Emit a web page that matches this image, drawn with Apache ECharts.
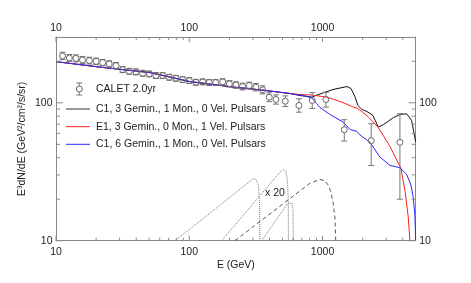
<!DOCTYPE html>
<html><head><meta charset="utf-8">
<script src="https://cdn.jsdelivr.net/npm/echarts@6/dist/echarts.min.js"></script>
<style>html,body{margin:0;padding:0;background:#fff}#c{width:471px;height:283px}</style>
</head><body><div id="c"></div>
<script>
// ---- CALET 2.0yr data ----
const dataE  = [11.2,12.6,14.1,15.8,17.8,20.0,22.4,25.1,28.2,31.6,35.5,39.8,44.7,50.1,56.2,63.1,70.8,79.4,89.1,100,112,126,141,158,178,200,224,251,282,316,355,398,447,525,665,837,1060,1455,2318,3807];
const dataF  = [218.6,211.4,210,204.5,202.2,199.7,195.6,191.4,186,174,169.2,167.5,163.7,162,157.5,157.5,153.1,150.5,147.3,144.9,140.9,141.8,140.2,140.2,141.8,137.2,134.5,131.2,133.4,129.7,124.1,109.8,105.7,102.7,95.6,103.9,105.7,63.8,53.1,51.7];
const dataLo = [205.3,199.5,198,193,191,189,185.5,181.5,176.5,165.5,161,159.5,156,154.3,150,150,145.8,143.3,140.2,138,134,135,133.4,133.4,134.5,130,127.3,124,126,122,116,102,97.8,94,85.5,91,93,52.8,35.1,20.0];
const dataHi = [232.8,224,222.6,216.8,214,211,206.2,201.8,196,183,177.8,176,171.8,170,165.4,165.4,160.8,158,154.7,152.2,148,149,147.3,147.3,149.5,144.8,142,138.8,141.2,137.9,132.8,118.2,114.2,112.2,106.9,118.6,119.3,75.4,70.5,83.3];

// ---- model curves ----
const blackE = [10,21.4,50.7,101,213,339,569,677,833,956,1197,1524,1634,1750,1843,1976,2153,2389,2618,2853,3391,3806,4274,4660,5000];
const blackF = [198.8,181.4,165.6,142.5,130.1,124.2,116.8,112.9,110.1,115.8,124.8,131.2,126.9,111.1,95.6,89.5,86.5,80.9,66.6,69.3,77.9,82.3,83.3,74.5,51.9];
const redE   = [10,21.4,50.7,101,213,339,569,677,833,1060,1197,1447,1691,1843,2191,2618,3203,3873,4151,4394,4525,4600];
const redF   = [198.8,181.4,165.6,142.5,130.1,124.2,116.8,114.8,113.9,110.1,106.5,99.7,93.3,90.9,79.6,66.3,48.3,33.5,23.2,14.9,10.0,8.0];
const blueE  = [10,21.4,50.7,101,213,339,569,713,828,903,956,1136,1422,1606,1812,1909,2268,2695,3203,3806,4274,4604,4790,4933,5000];
const blueF  = [198.8,181.4,165.6,142.5,130.1,124.2,116.8,112.9,108.7,98.9,92.5,82.3,72.7,64.1,62.0,58.5,51.7,40.4,35.2,33.8,30.3,25.3,20.7,15.3,10.0];

// ---- single-pulsar contributions (x 20) ----
const dot1E = [78.1,155.9,285.4,300.6,316.5,330.4,336.2,339.1];
const dot1F = [10.0,16.9,27.0,28.1,27.9,25.3,19.7,9.0];
const dot2E = [175,479,507,531,545,553,555];
const dot2F = [10.0,31.4,33.0,31.9,27.5,19.7,9.0];
const dot3E = [349,550,569,589,600,605];
const dot3F = [10.0,18.7,19.1,18.7,16.7,9.0];
const dashE = [220,804.5,956,1042,1103,1156,1203,1239,1261];
const dashF = [10.0,26.1,27.8,27.2,25.3,22.5,18.6,14.6,9.0];

// ---- axes ticks ----
const xMajor = [10,100,1000];
const xMinor = [20,30,40,50,60,70,80,90,200,300,400,500,600,700,800,900,2000,3000,4000];
const yMajor = [10,100];
const yMinor = [20,30,40,50,60,70,80,90,200];

const legendNames = ['CALET 2.0yr','C1, 3 Gemin., 1 Mon., 0 Vel. Pulsars','E1, 3 Gemin., 0 Mon., 1 Vel. Pulsars','C1, 6 Gemin., 1 Mon., 0 Vel. Pulsars'];

const FONT = 'Liberation Sans, Arial, Helvetica, sans-serif';
const TXT = '#222';
const AX = '#888';
const zip = (a,b) => a.map((v,i)=>[v,b[i]]);
const pow10Label = v => { const l = Math.log10(v); return Math.abs(l - Math.round(l)) < 1e-6 ? String(Math.round(v)) : ''; };

const chart = echarts.init(document.getElementById('c'), null, {renderer:'canvas'});
const axisCommonX = {
  type:'log', logBase:10, min:10, max:5000,
  axisLine:{show:true, lineStyle:{color:AX, width:1}},
  axisTick:{show:false}, minorTick:{show:false}, splitLine:{show:false},
  axisLabel:{formatter:pow10Label, color:TXT, fontFamily:FONT, fontSize:10.5}
};
const axisCommonY = {
  type:'log', logBase:10, min:10, max:300,
  axisLine:{show:true, lineStyle:{color:AX, width:1}},
  axisTick:{show:false}, minorTick:{show:false}, splitLine:{show:false},
  axisLabel:{formatter:pow10Label, color:TXT, fontFamily:FONT, fontSize:10.5}
};

const tickItems = [];
xMajor.forEach(v=>tickItems.push(['x',v,5]));
xMinor.forEach(v=>tickItems.push(['x',v,3]));
yMajor.forEach(v=>tickItems.push(['y',v,7]));
yMinor.forEach(v=>tickItems.push(['y',v,4]));

function lineSeries(E,F,color,type,width,z){
  return {type:'line', xAxisIndex:0, yAxisIndex:0, data:zip(E,F), symbol:'none', clip:true,
    lineStyle:{color:color, width:width, type:type}, smooth:false, z:z, silent:true, animation:false};
}

const option = {
  animation:false,
  grid:{left:56, right:55.3, top:37, bottom:42.3, containLabel:false},
  xAxis:[
    Object.assign({}, axisCommonX, {position:'bottom', name:'E (GeV)', nameLocation:'middle', nameGap:19, nameMoveOverlap:false,
      nameTextStyle:{color:TXT, fontFamily:FONT, fontSize:10.5}, axisLabel:Object.assign({}, axisCommonX.axisLabel, {margin:6})}),
    Object.assign({}, axisCommonX, {position:'top', axisLabel:Object.assign({}, axisCommonX.axisLabel, {margin:3})})
  ],
  yAxis:[
    Object.assign({}, axisCommonY, {position:'left', name:'E³dN/dE (GeV²/cm²/s/sr)', nameLocation:'middle', nameGap:28, nameRotate:90, nameMoveOverlap:false,
      nameTextStyle:{color:TXT, fontFamily:FONT, fontSize:10.5}, axisLabel:Object.assign({}, axisCommonY.axisLabel, {margin:3.5})}),
    Object.assign({}, axisCommonY, {position:'right', axisLabel:Object.assign({}, axisCommonY.axisLabel, {margin:3.5})})
  ],
  series:[
    lineSeries(dot1E,dot1F,'#777','dotted',1,2),
    lineSeries(dot2E,dot2F,'#777','dotted',1,2),
    lineSeries(dot3E,dot3F,'#777','dotted',1,2),
    lineSeries(dashE,dashF,'#555',[4,3],1,2),
    lineSeries(blackE,blackF,'#111','solid',1,3),
    lineSeries(redE,redF,'#ff2020','solid',1,4),
    lineSeries(blueE,blueF,'#2a2aff','solid',1,5),
    {
      type:'custom', xAxisIndex:0, yAxisIndex:0, z:6, silent:true, animation:false,
      data: dataE.map((e,i)=>[e, dataF[i], dataLo[i], dataHi[i]]),
      renderItem:(params, api)=>{
        const c = api.coord([api.value(0), api.value(1)]);
        const lo = api.coord([api.value(0), api.value(2)]);
        const hi = api.coord([api.value(0), api.value(3)]);
        const st = {stroke:'#777', lineWidth:1, fill:null};
        return {type:'group', children:[
          {type:'line', shape:{x1:c[0], y1:lo[1], x2:c[0], y2:c[1]+3}, style:st},
          {type:'line', shape:{x1:c[0], y1:c[1]-3, x2:c[0], y2:hi[1]}, style:st},
          {type:'line', shape:{x1:c[0]-3, y1:lo[1], x2:c[0]+3, y2:lo[1]}, style:st},
          {type:'line', shape:{x1:c[0]-3, y1:hi[1], x2:c[0]+3, y2:hi[1]}, style:st},
          {type:'circle', shape:{cx:c[0], cy:c[1], r:3}, style:{stroke:'#666', lineWidth:1, fill:null}}
        ]};
      }
    },
    {
      type:'custom', xAxisIndex:0, yAxisIndex:0, z:7, silent:true, animation:false, clip:false,
      data: tickItems.map(t=>[t[0]==='x'?0:1, t[1], t[2]]),
      renderItem:(params, api)=>{
        const kind = api.value(0), v = api.value(1), len = api.value(2);
        const st = {stroke:AX, lineWidth:1};
        if (kind === 0) {
          const b = api.coord([v, 10]), t = api.coord([v, 300]);
          return {type:'group', children:[
            {type:'line', shape:{x1:b[0], y1:b[1], x2:b[0], y2:b[1]-len}, style:st},
            {type:'line', shape:{x1:t[0], y1:t[1], x2:t[0], y2:t[1]+len}, style:st}
          ]};
        } else {
          const l = api.coord([10, v]), r = api.coord([5000, v]);
          return {type:'group', children:[
            {type:'line', shape:{x1:l[0], y1:l[1], x2:l[0]+len, y2:l[1]}, style:st},
            {type:'line', shape:{x1:r[0], y1:r[1], x2:r[0]-len, y2:r[1]}, style:st}
          ]};
        }
      }
    }
  ],
  graphic:[
    {type:'line', shape:{x1:79.3, y1:83, x2:79.3, y2:86}, style:{stroke:'#777', lineWidth:1}},
    {type:'line', shape:{x1:79.3, y1:92, x2:79.3, y2:95}, style:{stroke:'#777', lineWidth:1}},
    {type:'line', shape:{x1:76.3, y1:83, x2:82.3, y2:83}, style:{stroke:'#777', lineWidth:1}},
    {type:'line', shape:{x1:76.3, y1:95, x2:82.3, y2:95}, style:{stroke:'#777', lineWidth:1}},
    {type:'circle', shape:{cx:79.3, cy:89, r:3}, style:{stroke:'#666', lineWidth:1, fill:null}},
    {type:'text', x:96, y:89, style:{text:legendNames[0], fill:TXT, font:'10.5px '+FONT, textVerticalAlign:'middle'}},
    {type:'line', shape:{x1:66, y1:109, x2:90, y2:109}, style:{stroke:'#333', lineWidth:1}},
    {type:'text', x:96, y:109, style:{text:legendNames[1], fill:TXT, font:'10.5px '+FONT, textVerticalAlign:'middle'}},
    {type:'line', shape:{x1:66, y1:126.7, x2:90, y2:126.7}, style:{stroke:'#ff2020', lineWidth:1}},
    {type:'text', x:96, y:126.7, style:{text:legendNames[2], fill:TXT, font:'10.5px '+FONT, textVerticalAlign:'middle'}},
    {type:'line', shape:{x1:66, y1:144.3, x2:90, y2:144.3}, style:{stroke:'#2a2aff', lineWidth:1}},
    {type:'text', x:96, y:144.3, style:{text:legendNames[3], fill:TXT, font:'10.5px '+FONT, textVerticalAlign:'middle'}},
    {type:'text', x:265, y:193.5, style:{text:'x 20', fill:TXT, font:'10.5px '+FONT, textVerticalAlign:'middle'}}
  ]
};
chart.setOption(option);
</script>
</body></html>
